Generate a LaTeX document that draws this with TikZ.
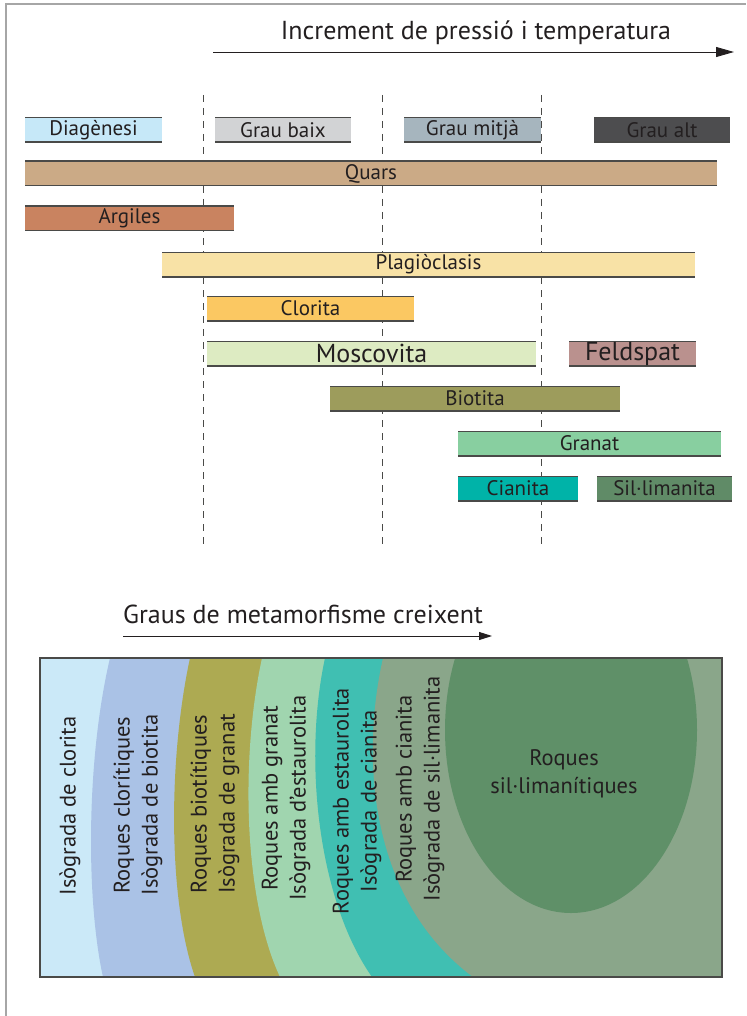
\documentclass[tikz,border=0pt]{standalone}
\usepackage{fontspec}
\setmainfont{PT Sans}
\usetikzlibrary{arrows.meta}

\definecolor{txtcol}{HTML}{231F20}
\definecolor{edgecol}{HTML}{4A4A48}
\definecolor{diag}{HTML}{C6E8F8}
\definecolor{baix}{HTML}{D2D3D5}
\definecolor{mitja}{HTML}{A6B5BE}
\definecolor{alt}{HTML}{4D4D4F}
\definecolor{quars}{HTML}{CBAA86}
\definecolor{argiles}{HTML}{C98360}
\definecolor{plagio}{HTML}{F8E2A6}
\definecolor{clorita}{HTML}{FBC862}
\definecolor{moscov}{HTML}{DDEBC2}
\definecolor{feldsp}{HTML}{BA918E}
\definecolor{biotita}{HTML}{9D9C5C}
\definecolor{granat}{HTML}{88CFA0}
\definecolor{cianita}{HTML}{00B3A8}
\definecolor{sillim}{HTML}{608B67}
\definecolor{zonaA}{HTML}{CBE9F8}
\definecolor{zonaB}{HTML}{AAC2E6}
\definecolor{zonaC}{HTML}{ADAA52}
\definecolor{zonaD}{HTML}{A0D5AF}
\definecolor{zonaE}{HTML}{40BFB2}
\definecolor{zonaF}{HTML}{8AA68A}
\definecolor{zonaG}{HTML}{5F9068}

\begin{document}
\begin{tikzpicture}[x=1pt,y=-1pt,
  bar/.style={minimum height=25pt, inner sep=0pt, text=txtcol,
    font=\fontsize{21}{21}\selectfont,
    path picture={\draw[edgecol, line width=2pt]
      (path picture bounding box.north west) -- (path picture bounding box.north east)
      (path picture bounding box.south west) -- (path picture bounding box.south east);}},
  bigbar/.style={bar, font=\fontsize{26}{26}\selectfont},
  zona/.style={rotate=90, align=center, text=txtcol, font=\fontsize{22.5}{28}\selectfont},
  guia/.style={edgecol, line width=0.8pt, dash pattern=on 7pt off 6pt}]
\useasboundingbox (0,0) rectangle (746,1016);
\draw[gray!70, line width=1.2pt] (6,1016) -- (6,4) -- (746,4);

% titol i fletxa
\node[text=txtcol, font=\fontsize{26}{26}\selectfont] (titol) at (476,33) {Increment de pressió i temperatura};
\coordinate (f1) at (213,52);
\coordinate (f2) at (734,52);
\draw[txtcol, line width=0.9pt, -{Triangle[length=18pt,width=10pt]}] (f1) -- (f2);

% separacions entre graus
\foreach \x in {203,382,541}
  \draw[guia] (\x,95) -- (\x,545);

% graus i minerals
\foreach \nm/\x/\y/\w/\col/\txt in {diagenesi/93.5/130/137/diag/Diagènesi,
    baix/283/130/136/baix/Grau baix, mitja/472.5/130/137/mitja/Grau mitjà,
    alt/662/130/136/alt/Grau alt,
    quars/371/173.5/692/quars/Quars, argiles/129.5/218.5/209/argiles/Argiles,
    plagio/428.5/264.5/533/plagio/Plagiòclasis, clorita/310.5/308.5/207/clorita/Clorita,
    biotita/475/398.5/290/biotita/Biotita, granat/589.5/443.5/263/granat/Granat,
    cianita/518/488.5/120/cianita/Cianita, sillim/664.5/488.5/135/sillim/Sil·limanita}
  \node[bar, fill=\col, minimum width=\w pt] (\nm) at (\x,\y) {\txt};
\node[bigbar, fill=moscov, minimum width=329pt] (moscov) at (371.5,353.5) {Moscovita};
\node[bigbar, fill=feldsp, minimum width=127pt] (feldsp) at (632.5,353.5) {Feldspat};

% graus de metamorfisme
\node[text=txtcol, font=\fontsize{26}{26}\selectfont] (graus) at (303,614) {Graus de metamorfisme creixent};
\coordinate (g1) at (123,636);
\coordinate (g2) at (492,636);
\draw[txtcol, line width=0.9pt, -{Triangle[length=13pt,width=8pt]}] (g1) -- (g2);

\begin{scope}
\clip (40,658) rectangle (722,977);
\fill[zonaA] (40,658) rectangle (722,977);
\foreach \col/\xt/\ca/\cb/\xb in {zonaB/110/86/86/103, zonaC/190/168/168/195,
    zonaD/262/240/244/280, zonaE/325/303/318/372, zonaF/383/360/370/473}
  \fill[\col] (\xt,658) .. controls (\ca,760) and (\cb,900) .. (\xb,977)
    -- (722,977) -- (722,658) -- cycle;
\fill[zonaG] (571,730) ellipse [x radius=126, y radius=183];
\end{scope}
\draw[edgecol, line width=1.2pt] (40,658) rectangle (722,977);

\node[zona] (z1) at (70,806) {Isògrada de clorita};
\node[zona] (z2) at (138,805) {Roques clorítiques\\Isògrada de biotita};
\node[zona] (z3) at (215,804) {Roques biotítiques\\Isògrada de granat};
\node[zona] (z4) at (286,798) {Roques amb granat\\Isògrada d'estaurolita};
\node[zona] (z5) at (357,801) {Roques amb estaurolita\\Isògrada de cianita};
\node[zona] (z6) at (420,789) {Roques amb cianita\\Isògrada de sil·limanita};
\node[align=center, text=txtcol, font=\fontsize{22.5}{28}\selectfont] (z7) at (564,774) {Roques\\sil·limanítiques};
\end{tikzpicture}
\end{document}
